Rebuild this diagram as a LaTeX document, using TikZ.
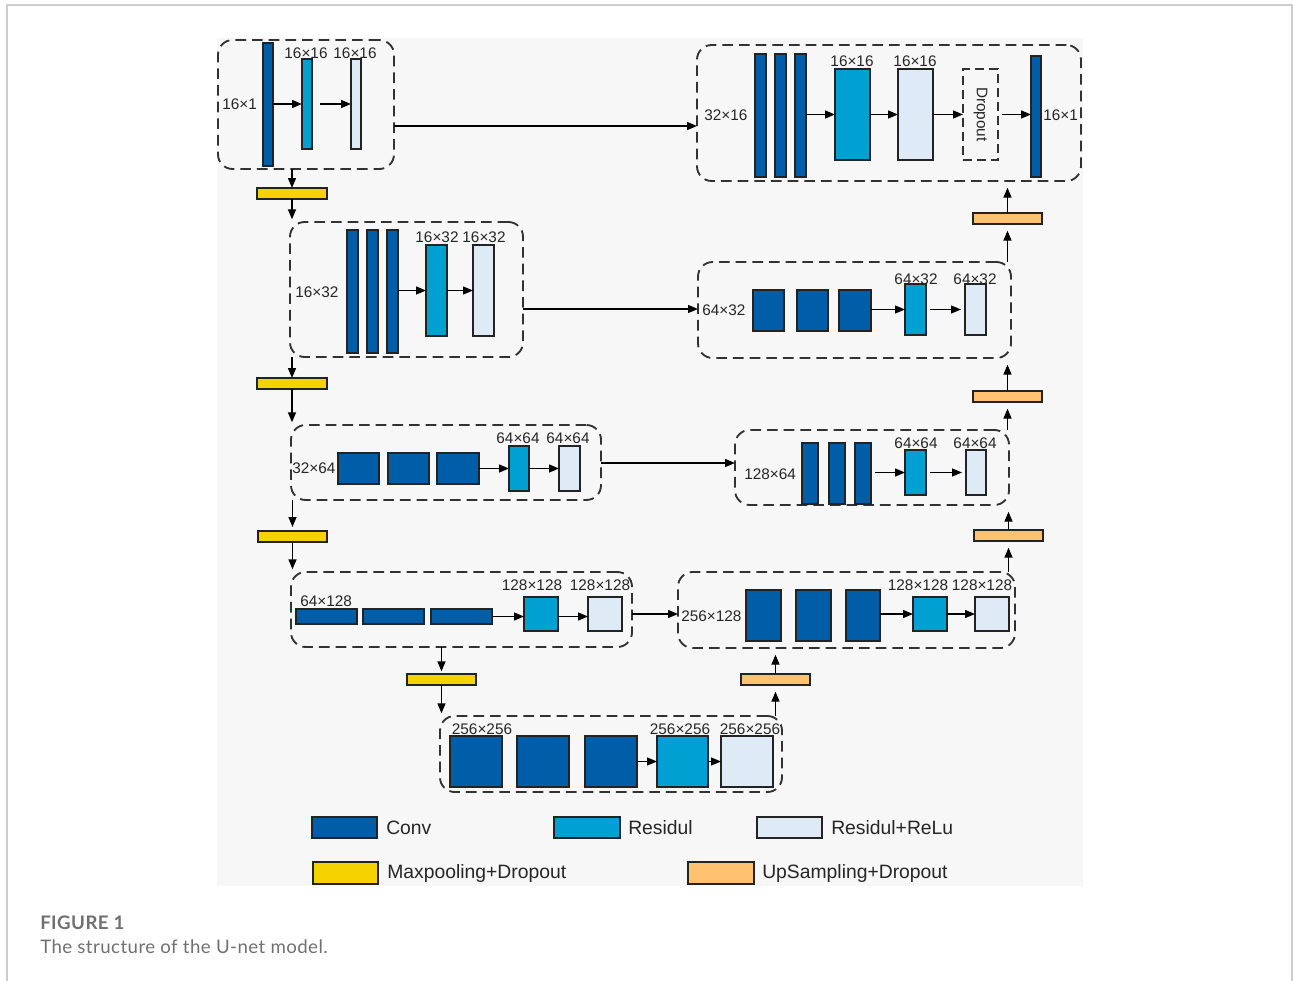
\documentclass[tikz,border=0pt]{standalone}
\usepackage{fontspec}
\setmainfont{Liberation Sans}
\newfontfamily\capfont{Lato}[LetterSpace=2.3]
\usetikzlibrary{arrows.meta,calc}

\definecolor{convc}{RGB}{0,94,168}
\definecolor{resc}{RGB}{0,160,210}
\definecolor{reluc}{RGB}{222,235,247}
\definecolor{poolc}{RGB}{245,210,0}
\definecolor{upc}{RGB}{255,194,112}
\definecolor{edgec}{RGB}{35,35,35}
\definecolor{dashc}{RGB}{50,50,50}
\definecolor{panelc}{RGB}{247,247,247}
\definecolor{framec}{RGB}{205,205,205}
\definecolor{capc}{RGB}{112,112,112}

% \ubox{name}{style}{x1}{y1}{x2}{y2}: a box given by its corners (pixel units)
\newcommand\ubox[6]{\node[#2, minimum width={(#5-#3)*0.75pt}, minimum height={(#6-#4)*0.75pt}] (#1) at ({(#3+#5)/2},{(#4+#6)/2}) {};}

\tikzset{
  cell/.style={draw=edgec, line width=1pt, inner sep=0pt, outer sep=0pt},
  conv/.style={cell, fill=convc},
  res/.style={cell, fill=resc},
  relu/.style={cell, fill=reluc},
  pool/.style={cell, fill=poolc},
  up/.style={cell, fill=upc},
  stage/.style={draw=dashc, line width=1.4pt, dash pattern=on 8pt off 4.5pt, rounded corners=11pt, inner sep=0pt, outer sep=0pt},
  drop/.style={draw=dashc, line width=1.2pt, dash pattern=on 6.5pt off 4pt, inner sep=0pt, outer sep=0pt},
  dim/.style={font=\fontsize{11.5}{13}\selectfont, text=black!85, inner sep=0pt},
  dimw/.style={dim, anchor=west},
  arr/.style={-{Triangle[length=7.5pt,width=6pt]}, line width=1pt, draw=black},
  uparr/.style={arr, shorten >=5pt},
  legt/.style={font=\fontsize{14.5}{17}\selectfont, inner sep=0pt, anchor=west, text=black!85},
}

\begin{document}
\begin{tikzpicture}[x=0.75pt,y=-0.75pt]
\useasboundingbox (0,0) rectangle (1293,981);

% page frame and figure panel
\draw[framec, line width=0.9pt] (7,981) -- (7,5) -- (1292,5) -- (1292,981);
\fill[panelc] (217,38) rectangle (1083,886);

% ---------------- encoder ----------------
\ubox{b1}{stage}{218}{40}{394}{169}
\ubox{c1}{conv}{263}{43}{273}{166}
\ubox{s1}{res}{302}{59}{312}{149}
\ubox{t1}{relu}{351}{59}{361}{149}
\ubox{p1}{pool}{257}{188}{327}{199}

\ubox{b2}{stage}{290}{222}{523}{357}
\ubox{c2a}{conv}{347}{230}{358}{353}
\ubox{c2b}{conv}{367}{230}{378}{353}
\ubox{c2c}{conv}{387}{230}{398}{353}
\ubox{s2}{res}{426}{245}{447}{336}
\ubox{t2}{relu}{473}{245}{494}{336}
\ubox{p2}{pool}{257}{378}{327}{389}

\ubox{b3}{stage}{291}{425}{601}{500}
\ubox{c3a}{conv}{338}{453}{379}{484}
\ubox{c3b}{conv}{388}{453}{429}{484}
\ubox{c3c}{conv}{437}{453}{479}{484}
\ubox{s3}{res}{509}{446}{529}{491}
\ubox{t3}{relu}{559}{446}{580}{491}
\ubox{p3}{pool}{258}{531}{327}{542}

\ubox{b4}{stage}{291}{572}{632}{647}
\ubox{c4a}{conv}{296}{609}{357}{624}
\ubox{c4b}{conv}{363}{609}{424}{624}
\ubox{c4c}{conv}{431}{609}{492}{624}
\ubox{s4}{res}{524}{597}{558}{631}
\ubox{t4}{relu}{588}{597}{622}{631}
\ubox{p4}{pool}{407}{674}{476}{685}

% ---------------- bottleneck ----------------
\ubox{b5}{stage}{440}{716}{782}{792}
\ubox{c5a}{conv}{450}{736}{502}{787}
\ubox{c5b}{conv}{517}{736}{569}{787}
\ubox{c5c}{conv}{585}{736}{637}{787}
\ubox{s5}{res}{657}{736}{708}{787}
\ubox{t5}{relu}{721}{736}{773}{787}
\ubox{u1}{up}{741}{674}{810}{685}

% ---------------- decoder ----------------
\ubox{r4}{stage}{678}{572}{1015}{648}
\ubox{d4a}{conv}{746}{590}{781}{641}
\ubox{d4b}{conv}{796}{590}{831}{641}
\ubox{d4c}{conv}{846}{590}{880}{641}
\ubox{q4}{res}{913}{597}{947}{631}
\ubox{w4}{relu}{975}{597}{1009}{631}
\ubox{u2}{up}{974}{530}{1043}{541}

\ubox{r3}{stage}{735}{430}{1009}{505}
\ubox{d3a}{conv}{802}{443}{818}{504}
\ubox{d3b}{conv}{829}{443}{845}{504}
\ubox{d3c}{conv}{855}{443}{871}{504}
\ubox{q3}{res}{905}{450}{926}{495}
\ubox{w3}{relu}{966}{450}{986}{495}
\ubox{u3}{up}{973}{391}{1042}{402}

\ubox{r2}{stage}{698}{262}{1011}{358}
\ubox{d2a}{conv}{753}{290}{784}{331}
\ubox{d2b}{conv}{797}{290}{828}{331}
\ubox{d2c}{conv}{839}{290}{871}{331}
\ubox{q2}{res}{905}{284}{926}{335}
\ubox{w2}{relu}{965}{284}{986}{335}
\ubox{u4}{up}{973}{213}{1042}{224}

\ubox{r1}{stage}{697}{45}{1081}{181}
\ubox{d1a}{conv}{755}{54}{766}{177}
\ubox{d1b}{conv}{775}{54}{786}{177}
\ubox{d1c}{conv}{795}{54}{806}{177}
\ubox{q1}{res}{835}{69}{870}{160}
\ubox{w1}{relu}{898}{69}{933}{160}
\ubox{dr}{drop}{963}{69}{998}{160}
\ubox{o1}{conv}{1031}{56}{1041}{177}

% ---------------- arrows inside stages ----------------
\draw[arr] (c1.east |- s1) -- (s1.west);
\draw[arr] ([xshift=6pt]s1.east) -- (t1.west);
\draw[arr] (c2c.east |- s2) -- (s2.west);
\draw[arr] (s2.east) -- (t2.west);
\draw[arr] (c3c.east |- s3) -- (s3.west);
\draw[arr] (s3.east) -- (t3.west);
\draw[arr] (c4c.east) -- (c4c.east -| s4.west);
\draw[arr] (s4.east |- c4c.east) -- (c4c.east -| t4.west);
\draw[arr] (c5c.east) -- (s5.west);
\draw[arr] (s5.east) -- (t5.west);
\draw[arr] (d4c.east |- q4) -- (q4.west);
\draw[arr] (q4.east) -- (w4.west);
\draw[arr] ([xshift=3pt]d3c.east |- q3) -- (q3.west);
\draw[arr] ([xshift=3pt]q3.east) -- ([xshift=-3pt]w3.west);
\draw[arr] (d2c.east |- q2) -- (q2.west);
\draw[arr] ([xshift=3pt]q2.east) -- ([xshift=-3pt]w2.west);
\draw[arr] (d1c.east |- q1) -- (q1.west);
\draw[arr] (q1.east) -- (w1.west);
\draw[arr] (w1.east) -- (dr.west);
\draw[arr] ([xshift=3pt]dr.east) -- (dr.east -| o1.west);

% ---------------- down path (pooling) ----------------
\draw[arr] (b1.south -| p1) -- (p1.north);
\draw[arr, shorten >=2pt] (p1.south) -- (b2.north -| p1);
\draw[arr] (b2.south -| p2) -- (p2.north);
\draw[arr, shorten >=2pt] (p2.south) -- (b3.north -| p2);
\draw[arr, shorten >=3pt] (b3.south -| p3) -- (p3.north);
\draw[arr, shorten >=2pt] (p3.south) -- (b4.north -| p3);
\draw[arr, shorten >=2pt] (b4.south -| p4) -- (p4.north);
\draw[arr, shorten >=2pt] (p4.south) -- (b5.north -| p4);

% ---------------- up path (upsampling) ----------------
\draw[uparr] (b5.north -| u1) -- (u1.south);
\draw[uparr] (u1.north) -- (r4.south -| u1);
\draw[uparr] (r4.north -| u2) -- (u2.south);
\draw[uparr] (u2.north) -- (r3.south -| u2);
\draw[uparr] (r3.north -| u3) -- (u3.south);
\draw[uparr] (u3.north) -- (r2.south -| u3);
\draw[uparr] (r2.north -| u4) -- (u4.south);
\draw[uparr] (u4.north) -- (r1.south -| u4);

% ---------------- skip connections ----------------
\coordinate (k1) at (394,126);
\coordinate (k2) at (523,309);
\coordinate (k3) at (601,463);
\coordinate (k4) at (632,614);
\draw[arr] (k1) -- (k1 -| r1.west);
\draw[arr] (k2) -- (k2 -| r2.west);
\draw[arr] (k3) -- (k3 -| r3.west);
\draw[arr] (k4) -- (k4 -| r4.west);

% ---------------- size labels ----------------
\node[dimw] (l1a) at (222,104) {16×1};
\node[dim] (l1b) at (306,53) {16×16};
\node[dim] (l1c) at (355,53) {16×16};

\node[dimw] (l2a) at (295,292) {16×32};
\node[dim] (l2b) at (437,237) {16×32};
\node[dim] (l2c) at (484,237) {16×32};

\node[dimw] (l3a) at (292,468) {32×64};
\node[dim] (l3b) at (518,438) {64×64};
\node[dim] (l3c) at (568,438) {64×64};

\node[dimw] (l4a) at (300,601) {64×128};
\node[dim] (l4b) at (532,585) {128×128};
\node[dim] (l4c) at (600,585) {128×128};

\node[dim] (l5a) at (482,729) {256×256};
\node[dim] (l5b) at (680,729) {256×256};
\node[dim] (l5c) at (750,729) {256×256};

\node[dimw] (m4a) at (681,616) {256×128};
\node[dim] (m4b) at (918,585) {128×128};
\node[dim] (m4c) at (982,585) {128×128};

\node[dimw] (m3a) at (744,474) {128×64};
\node[dim] (m3b) at (916,443) {64×64};
\node[dim] (m3c) at (975,443) {64×64};

\node[dimw] (m2a) at (702,310) {64×32};
\node[dim] (m2b) at (916,279) {64×32};
\node[dim] (m2c) at (975,279) {64×32};

\node[dimw] (m1a) at (704,115) {32×16};
\node[dim] (m1b) at (852,61) {16×16};
\node[dim] (m1c) at (915,61) {16×16};
\node[dimw] (m1d) at (1043,115) {16×1};
\node[dim, rotate=-90] (drt) at (dr) {Dropout};

% ---------------- legend ----------------
\ubox{g1}{conv}{312}{817}{377}{838}
\ubox{g2}{res}{554}{817}{620}{838}
\ubox{g3}{relu}{757}{817}{822}{838}
\ubox{g4}{pool}{313}{862}{378}{884}
\ubox{g5}{up}{688}{862}{754}{884}
\node[legt] (gt1) at (386,828) {Conv};
\node[legt] (gt2) at (628,828) {Residul};
\node[legt] (gt3) at (831,828) {Residul+ReLu};
\node[legt] (gt4) at (387,873) {Maxpooling+Dropout};
\node[legt] (gt5) at (762,873) {UpSampling+Dropout};

% ---------------- caption ----------------
\node[anchor=base west, inner sep=0pt, text=capc, font=\capfont\bfseries\fontsize{14}{16}\selectfont] (cap1) at (40,929) {FIGURE 1};
\node[anchor=base west, inner sep=0pt, text=capc, font=\capfont\fontsize{14}{16}\selectfont] (cap2) at (40,953) {The structure of the U-net model.};
\end{tikzpicture}
\end{document}
